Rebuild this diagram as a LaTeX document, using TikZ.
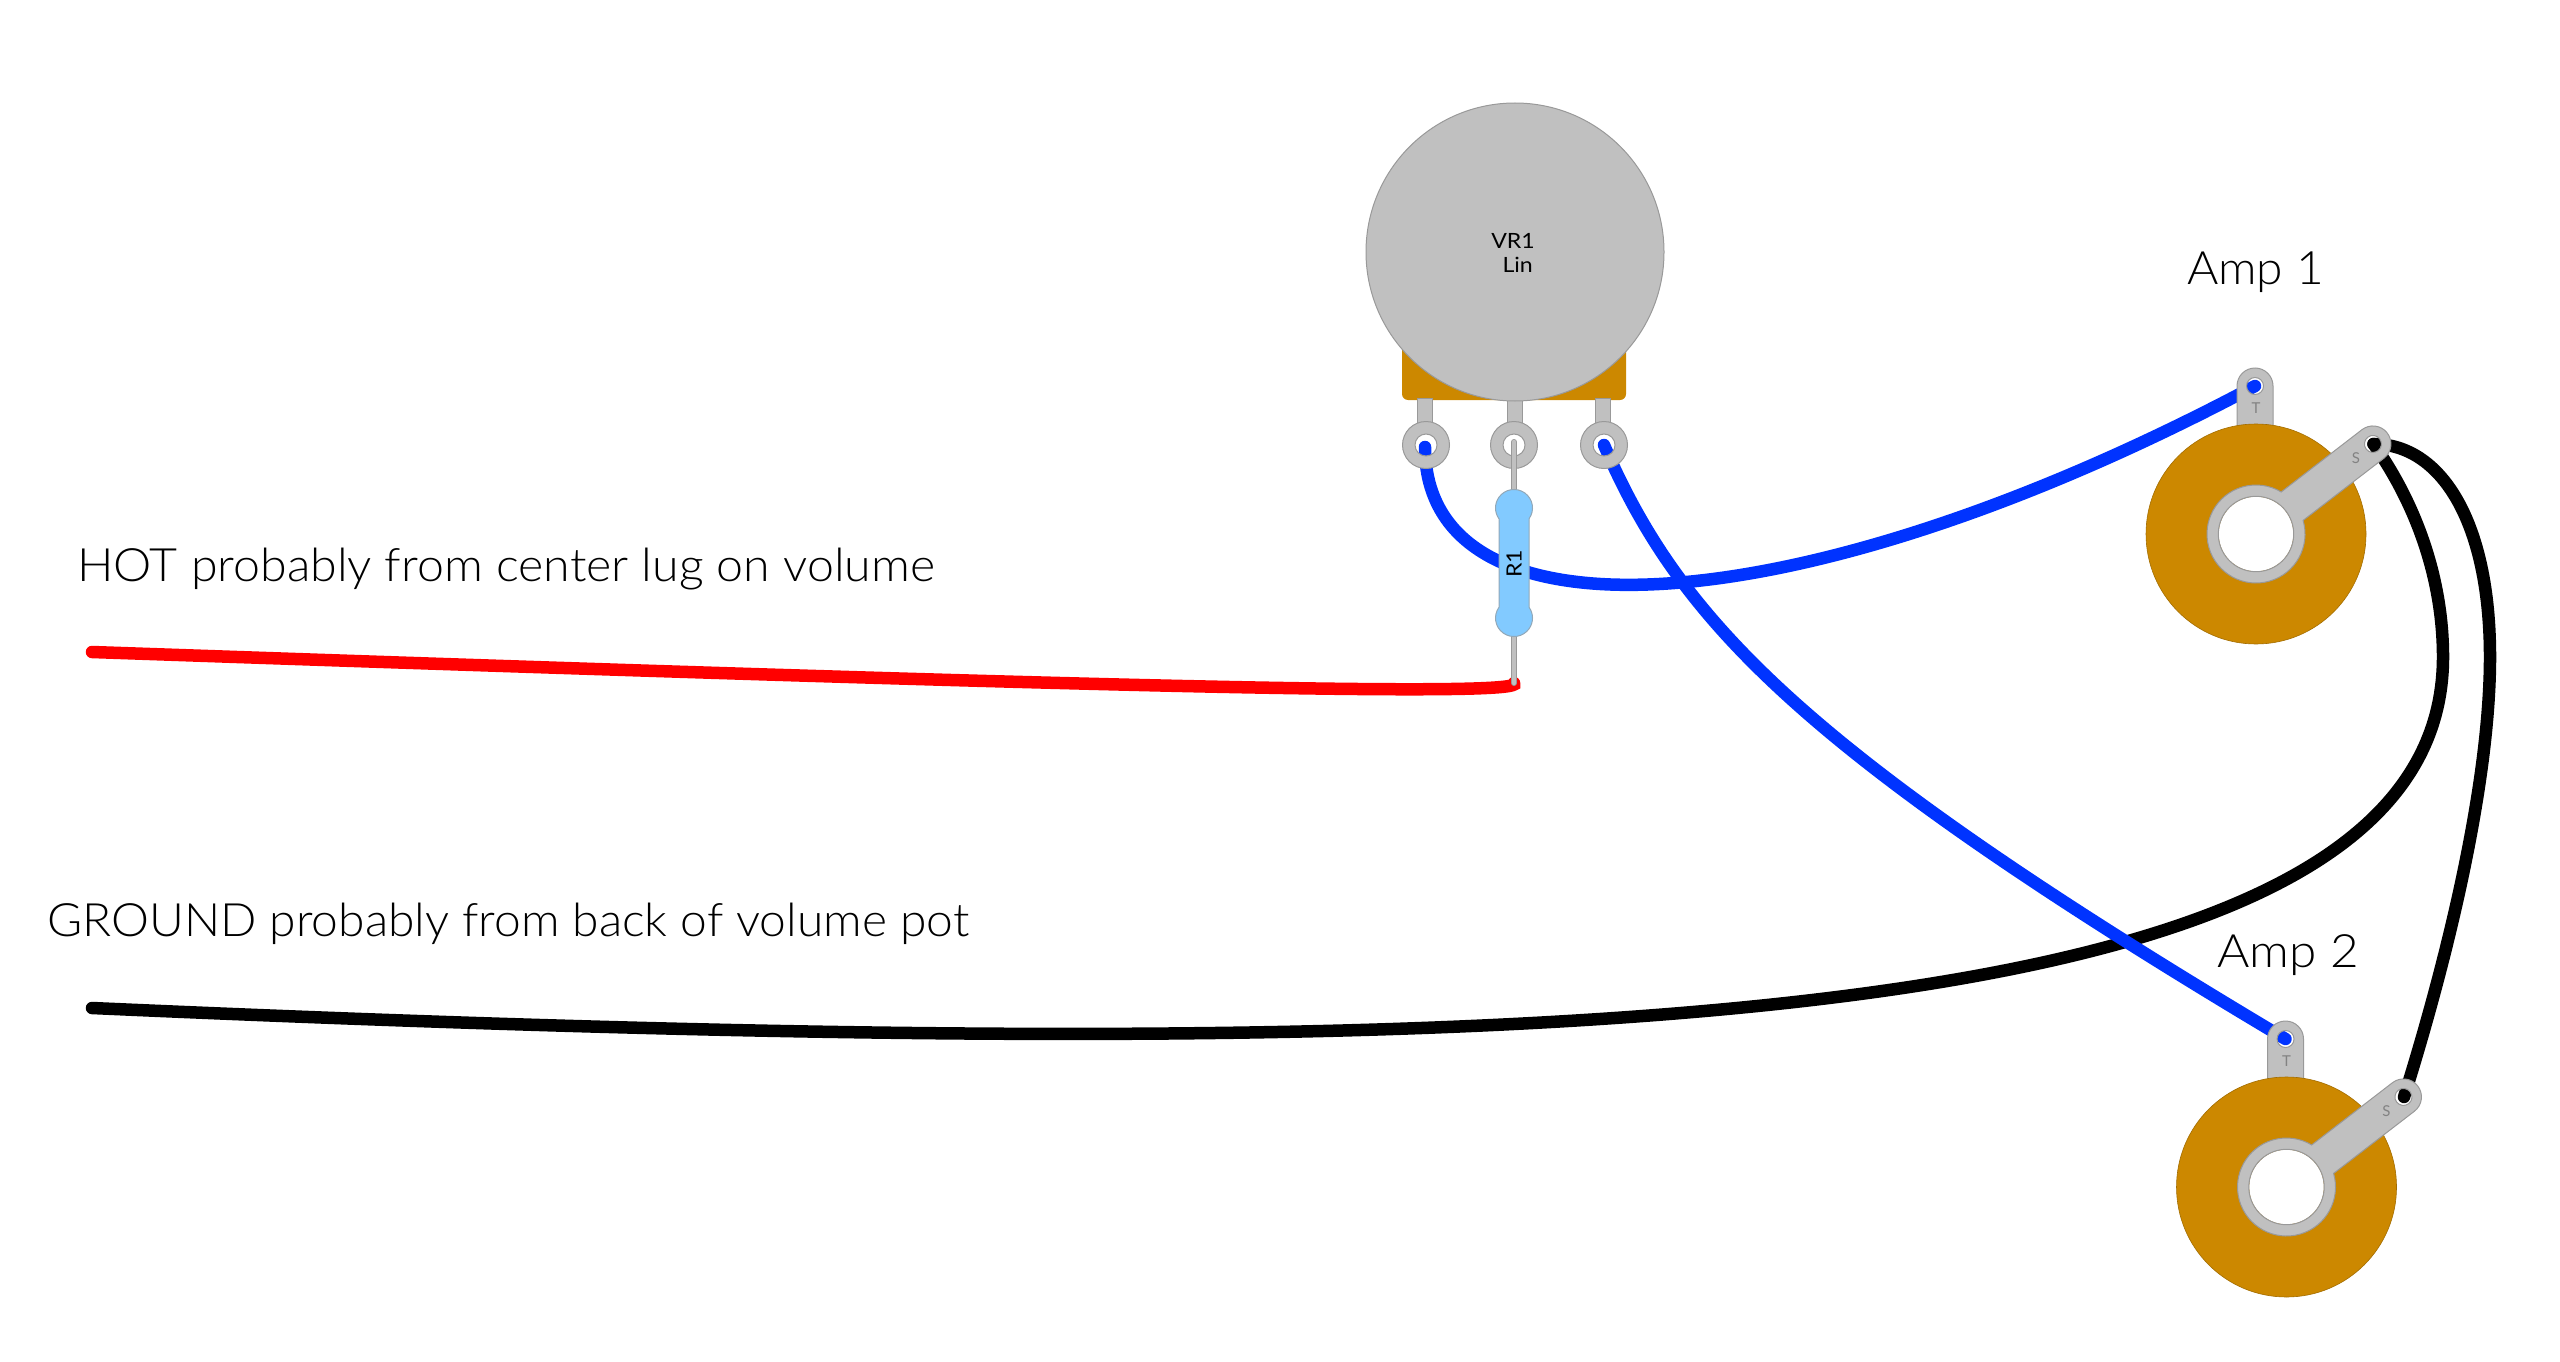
\documentclass[tikz,border=0pt]{standalone}
\usepackage{fontspec}
\setmainfont[UprightFont=* Light]{Lato}
\newfontfamily\labelfont{Lato}
\definecolor{potgray}{HTML}{C0C0C0}
\definecolor{lugedge}{HTML}{999999}
\definecolor{jackbrass}{HTML}{CC8800}
\definecolor{hookup}{HTML}{0033FF}
\definecolor{resbody}{HTML}{82CAFF}
\tikzset{
  wire/.style={line width=12.5pt,line cap=round},
  lugface/.style={fill=potgray,draw=lugedge,line width=1pt,even odd rule},
  bigtext/.style={inner sep=0pt,anchor=base west,font=\fontsize{46}{46}\selectfont,transform shape},
  smalltext/.style={inner sep=0pt,font=\labelfont\fontsize{21}{21}\selectfont,transform shape},
  lugtext/.style={inner sep=0pt,text=lugedge!85!black,font=\labelfont\fontsize{15}{15}\selectfont}
}
\begin{document}
\begin{tikzpicture}[x=1pt,y=-1pt]
  \useasboundingbox (0,0) rectangle (2560,1362);

  \coordinate (lugleft) at (1425,447);
  \coordinate (lugright) at (1604,445);
  \coordinate (hotend) at (92,652);
  \coordinate (groundend) at (92,1008);
  \coordinate (groundbend) at (2443,657);
  \coordinate (shieldbend) at (2490,657);
  \coordinate (reslead) at (1514,683);
  \foreach \jname/\jx/\jy in {jackone/2256/534,jacktwo/2286.5/1187} {
    \coordinate (\jname) at (\jx,\jy);
    \coordinate (\jname t) at (\jx-1,\jy-148);
    \coordinate (\jname s) at (\jx+117.5,\jy-90);
  }

  % wires go under the lugs
  \draw[wire,black] (groundend) .. controls (1600,1075) and (2443,1030) .. (groundbend)
    .. controls (2443,570) and (2410,495) .. (jackones);
  \draw[wire,black] (jackones) .. controls (2440,444) and (2490,520) .. (shieldbend)
    .. controls (2490,780) and (2450,950) .. (jacktwos);
  \draw[wire,red] (hotend) .. controls (900,680) and (1535,700) .. (reslead);
  \draw[wire,hookup] (lugleft) .. controls (1425,650) and (1800,628) .. (jackonet);
  \draw[wire,hookup] (lugright) .. controls (1680,620) and (1800,750) .. (jacktwot);

  % volume pot
  \fill[jackbrass,rounded corners=6pt] (1402,340) rectangle (1626,400);
  \foreach \lx in {1425,1515,1603}
    \draw[fill=potgray,draw=lugedge,line width=.6pt] (\lx-7.5,398) rectangle (\lx+7.5,428);
  \draw[fill=potgray,draw=lugedge,line width=1pt] (1515,252) circle (149);
  \foreach \lx in {1426,1514,1604}
    \draw[lugface] (\lx,445) circle (23.5) (\lx,445) circle (11);
  \node[smalltext,xscale=1.1] (vrlabel) at (1513,241) {VR1};
  \node[smalltext,xscale=1.1,anchor=base east] (linlabel) at (1533,272) {Lin};

  % resistor
  \draw[lugedge,line width=6pt,line cap=round] (1514,442) -- (reslead);
  \draw[potgray,line width=4.4pt,line cap=round] (1514,442) -- (reslead);
  \begin{scope}[shift={(1514,563)},y=1pt]
    \draw[fill=resbody,draw=lugedge!70!resbody,line width=1pt]
      (15,-44.2) -- (15,44.2) arc (-35.8:215.8:18.5) -- (-15,-44.2)
      arc (144.2:395.8:18.5) -- cycle;
  \end{scope}
  \node[smalltext,rotate=90,xscale=1.1] (reslabel) at (1514,564) {R1};

  % output jacks
  \foreach \jname in {jackone,jacktwo} {
    \begin{scope}[shift={(\jname)},y=1pt]
      \draw[lugface] (-19,90) -- (-19,148) arc (180:0:18) -- (17,90) -- cycle
        (-1,148) circle (8.5);
      \draw[fill=jackbrass,draw=jackbrass!80!black,line width=.6pt,even odd rule]
        (0,0) circle (110) (0,0) circle (37.7);
      \begin{scope}[rotate=37.6]
        \draw[lugface] (21.5:49) -- (147.6,18) arc (90:-90:18) -- (-21.5:49)
          arc (-21.5:-338.5:49) -- cycle (0,0) circle (37.7) (147.6,0) circle (8.5);
      \end{scope}
      \node[lugtext] at (0,126) {T};
      \node[lugtext] at (100,76) {S};
    \end{scope}
  }

  \node[bigtext,xscale=1.05] (hotlabel) at (77,581) {HOT probably from center lug on volume};
  \node[bigtext,xscale=1.042] (groundlabel) at (47,936) {GROUND probably from back of volume pot};
  \node[bigtext,xscale=1.04] (amponelabel) at (2187,284) {Amp 1};
  \node[bigtext,xscale=1.075] (amptwolabel) at (2217,967) {Amp 2};
\end{tikzpicture}
\end{document}
